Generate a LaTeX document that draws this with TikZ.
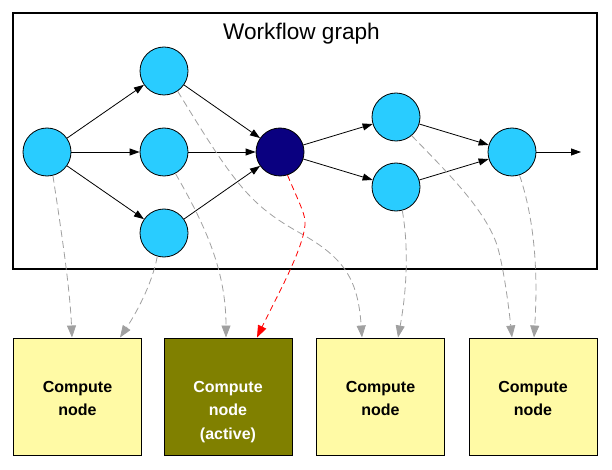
\documentclass[tikz,border=0pt]{standalone}
\usepackage{fontspec}
\setmainfont{Liberation Sans}
\usetikzlibrary{arrows.meta}
\definecolor{taskblue}{RGB}{41,204,255}
\definecolor{activeblue}{RGB}{10,0,128}
\definecolor{nodeyellow}{RGB}{255,250,165}
\definecolor{activeolive}{RGB}{128,128,0}
\definecolor{mapgray}{RGB}{160,160,160}
\tikzset{
  task/.style={circle,draw,line width=0.8pt,fill=taskblue,minimum size=48pt,inner sep=0pt},
  activetask/.style={task,fill=activeblue},
  cnode/.style={rectangle,draw,line width=1pt,fill=nodeyellow,minimum width=128pt,minimum height=117pt,inner sep=0pt},
  activecnode/.style={cnode,fill=activeolive},
  ctext/.style={align=center,inner sep=0pt,anchor=north,font=\bfseries\fontsize{16}{22.5}\selectfont},
  flow/.style={-{Triangle[length=10pt,width=7pt]},line width=0.8pt},
  assign/.style={-{Triangle[length=12pt,width=9pt]},mapgray,line width=0.8pt,dash pattern=on 7pt off 4pt},
  activeassign/.style={assign,red,dash pattern=on 6pt off 4pt},
}
\begin{document}
\begin{tikzpicture}[x=1pt,y=-1pt]
        \useasboundingbox (0,0) rectangle (612,470);
        %% graph frame
        \draw[line width=1.2pt] (13,13) rectangle (597,269);
        \node[anchor=base,font=\fontsize{22.6}{27}\selectfont] (title) at (301.5,40) {Workflow graph};
        %% workflow tasks
        \node[task] (wa) at (47,152) {};
        \node[task] (wt) at (164,71) {};
        \node[task] (wb) at (164,152) {};
        \node[task] (wc) at (164,233) {};
        \node[activetask] (wr) at (280,152) {};
        \node[task] (wd) at (396,117) {};
        \node[task] (we) at (396,187) {};
        \node[task] (wf) at (512,152) {};
        \coordinate (wout) at (581,152);
        \draw[flow] (wa) -- (wt);
        \draw[flow] (wa) -- (wb);
        \draw[flow] (wa) -- (wc);
        \draw[flow] (wt) -- (wr);
        \draw[flow] (wb) -- (wr);
        \draw[flow] (wc) -- (wr);
        \draw[flow] (wr) -- (wd);
        \draw[flow] (wr) -- (we);
        \draw[flow] (wd) -- (wf);
        \draw[flow] (we) -- (wf);
        \draw[flow] (wf) -- (wout);
        %% compute nodes
        \node[cnode] (c1) at (77.5,396.5) {};
        \node[activecnode] (c2) at (228,396.5) {};
        \node[cnode] (c3) at (380.5,396.5) {};
        \node[cnode] (c4) at (533,396.5) {};
        \node[ctext] (t1) at (77.5,381.3) {Compute\\node};
        \node[ctext,text=white] (t2) at (228,381.3) {Compute\\node\\[2pt](active)};
        \node[ctext] (t3) at (380.5,381.3) {Compute\\node};
        \node[ctext] (t4) at (533,381.3) {Compute\\node};
        %% task to compute node mapping
        \draw[assign] (wa.-76) .. controls (62,235) and (70,290) .. ([xshift=-5.5pt]c1.north);
        \draw[assign] (wc.-106) .. controls (152,285) and (135,315) .. ([xshift=42.5pt]c1.north);
        \draw[assign] (wb.-62) .. controls (205,225) and (226,270) .. ([xshift=-2pt]c2.north);
        \draw[assign] (wt.-56) .. controls (235,185) and (250,205) .. (300,233)
                               .. controls (345,258) and (358,280) .. ([xshift=-18.5pt]c3.north);
        \draw[assign] (we.-75) .. controls (410,255) and (405,300) .. ([xshift=17.5pt]c3.north);
        \draw[assign] (wd.-50) .. controls (450,175) and (485,210) .. (497,245)
                               .. controls (503,265) and (508,300) .. ([xshift=-21pt]c4.north);
        \draw[assign] (wf.-72) .. controls (538,230) and (537,290) .. ([xshift=1pt]c4.north);
        \draw[activeassign] (wr.-72) .. controls (300,205) and (306,215) .. (305,225)
                               .. controls (303,250) and (275,300) .. ([xshift=29pt]c2.north);
    \end{tikzpicture}
\end{document}
